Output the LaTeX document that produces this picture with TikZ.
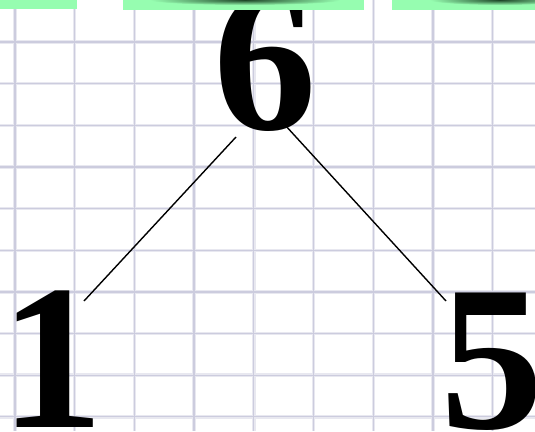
\documentclass[tikz,border=0pt]{standalone}
\usepackage{fontspec}
\setmainfont{Liberation Serif}
\definecolor{gridcol}{RGB}{204,204,222}
\definecolor{gridhalo}{RGB}{232,232,240}
\definecolor{barcol}{RGB}{150,253,176}
\definecolor{shadowcol}{RGB}{30,70,40}
\begin{document}
\begin{tikzpicture}[x=1pt,y=-1pt,
  gridhalo/.style={line width=3.4pt, draw=gridhalo},
  gridline/.style={line width=1.3pt, draw=gridcol},
  bignum/.style={inner sep=0pt, anchor=base, font=\fontsize{207}{207}\selectfont\bfseries},
  connector/.style={line width=1.4pt, draw=black},
  greenbar/.style={fill=barcol}]
\useasboundingbox (0,0) rectangle (535,431);
\fill[white] (0,0) rectangle (535,431);
% grid paper
\foreach \k in {0,...,8} \draw[gridhalo] ({15+59.7*\k},0) -- ({15+59.7*\k},431);
\foreach \k in {1,...,10} \draw[gridhalo] (0,{0.3+41.65*\k}) -- (535,{0.3+41.65*\k});
\foreach \k in {0,...,8} \draw[gridline] ({15+59.7*\k},0) -- ({15+59.7*\k},431);
\foreach \k in {1,...,10} \draw[gridline] (0,{0.3+41.65*\k}) -- (535,{0.3+41.65*\k});
% numbers
\node[bignum] (six) at (265.6,129.5) {6};
\node[bignum] (one) at (52,427) {1};
\node[bignum] (five) at (492,428) {5};
% connector ends
\coordinate (sixL) at (236,137);
\coordinate (oneT) at (84,301);
\coordinate (sixR) at (285,125);
\coordinate (fiveT) at (446,301);
\draw[connector] (sixL) -- (oneT);
\draw[connector] (sixR) -- (fiveT);
% green bars at top
\fill[greenbar] (0,0) rectangle (77,9);
\fill[greenbar] (123,0) rectangle (364,10);
\fill[greenbar] (392,0) rectangle (535,10);
\begin{scope}
  \clip (123,0) rectangle (364,10);
  \shade[inner color=shadowcol, outer color=barcol] (245,0) ellipse (95 and 5);
\end{scope}
\begin{scope}
  \clip (392,0) rectangle (535,10);
  \shade[inner color=shadowcol, outer color=barcol] (500,0) ellipse (70 and 5);
\end{scope}
\end{tikzpicture}
\end{document}
